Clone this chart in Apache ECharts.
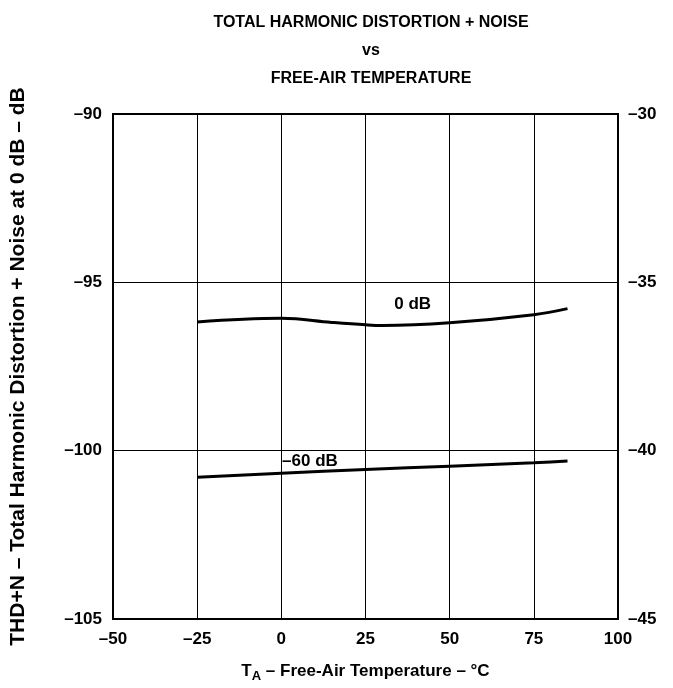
<!DOCTYPE html>
<html>
<head>
<meta charset="utf-8">
<script src="https://cdn.jsdelivr.net/npm/echarts@6/dist/echarts.min.js"></script>
<style>html,body{margin:0;padding:0;background:#fff}#c{width:673px;height:688px}</style>
</head>
<body>
<div id="c"></div>
<script>
var xTicks = [-50, -25, 0, 25, 50, 75, 100];
var leftTicks = [-105, -100, -95, -90];
var rightTicks = [-45, -40, -35, -30];
var temp0dB = [-25, 0, 15, 25, 30, 50, 75, 85];
var thd0dB = [-96.18, -96.07, -96.19, -96.26, -96.28, -96.2, -95.96, -95.78];
var temp60dB = [-25, 0, 25, 50, 75, 85];
var thd60dB = [-40.79, -40.67, -40.56, -40.46, -40.36, -40.31];

var F = 'Liberation Sans, Arial, sans-serif';
function dash(v){ return String(v).replace('-', '\u2013'); }
function pairs(xs, ys){ return xs.map(function(x,i){ return [x, ys[i]]; }); }
var lbl = { fontFamily: F, fontWeight: 'bold', fontSize: 17, color: '#000' };

var chart = echarts.init(document.getElementById('c'));
chart.setOption({
  animation: false,
  backgroundColor: '#fff',
  title: {
    text: 'TOTAL HARMONIC DISTORTION + NOISE\nvs\nFREE-AIR TEMPERATURE',
    left: 366, top: 4, textAlign: 'center',
    textStyle: { fontFamily: F, fontWeight: 'bold', fontSize: 16, lineHeight: 28, color: '#000' }
  },
  grid: { left: 111, right: 55, top: 114, bottom: 68, show: true, borderColor: '#000', borderWidth: 2 },
  xAxis: {
    type: 'value', min: xTicks[0], max: xTicks[xTicks.length-1], interval: 25,
    axisLine: { show: false }, axisTick: { show: false },
    splitLine: { show: true, lineStyle: { color: '#000', width: 1 } },
    axisLabel: { formatter: dash, fontFamily: F, fontWeight: 'bold', fontSize: 17, color: '#000', margin: 12 },
    name: '{t|T}{s|A}{t| \u2013 Free-Air Temperature \u2013 \u00B0C}',
    nameLocation: 'middle', nameGap: 41,
    nameTextStyle: { rich: {
      t: { fontFamily: F, fontWeight: 'bold', fontSize: 17, color: '#000' },
      s: { fontFamily: F, fontWeight: 'bold', fontSize: 13, color: '#000', verticalAlign: 'bottom', padding: [10,0,0,0] }
    } }
  },
  yAxis: [{
    type: 'value', min: leftTicks[0], max: leftTicks[leftTicks.length-1], interval: 5, position: 'left',
    axisLine: { show: false }, axisTick: { show: false },
    splitLine: { show: true, lineStyle: { color: '#000', width: 1 } },
    axisLabel: { formatter: dash, fontFamily: F, fontWeight: 'bold', fontSize: 17, color: '#000', margin: 11 },
    name: 'THD+N \u2013 Total Harmonic Distortion + Noise at 0 dB \u2013 dB',
    nameLocation: 'middle', nameGap: 84, nameRotate: 90,
    nameTextStyle: { fontFamily: F, fontWeight: 'bold', fontSize: 21, color: '#000' }
  }, {
    type: 'value', min: rightTicks[0], max: rightTicks[rightTicks.length-1], interval: 5, position: 'right',
    axisLine: { show: false }, axisTick: { show: false }, splitLine: { show: false },
    axisLabel: { formatter: dash, fontFamily: F, fontWeight: 'bold', fontSize: 17, color: '#000', margin: 10 }
  }],
  series: [{
    name: '0 dB', type: 'line', yAxisIndex: 0, smooth: 0.4, symbol: 'none',
    data: pairs(temp0dB, thd0dB),
    lineStyle: { color: '#000', width: 3 },
    markPoint: { symbol: 'circle', symbolSize: 1, silent: true, itemStyle: { color: 'rgba(0,0,0,0)' },
      label: Object.assign({ show: true, position: 'inside', formatter: '0 dB' }, lbl),
      data: [{ coord: [39, -95.65] }] }
  }, {
    name: '-60 dB', type: 'line', yAxisIndex: 1, smooth: true, symbol: 'none',
    data: pairs(temp60dB, thd60dB),
    lineStyle: { color: '#000', width: 3 },
    markPoint: { symbol: 'circle', symbolSize: 1, silent: true, itemStyle: { color: 'rgba(0,0,0,0)' },
      label: Object.assign({ show: true, position: 'inside', formatter: '\u201360 dB' }, lbl),
      data: [{ coord: [8.5, -40.33] }] }
  }]
});
</script>
</body>
</html>
